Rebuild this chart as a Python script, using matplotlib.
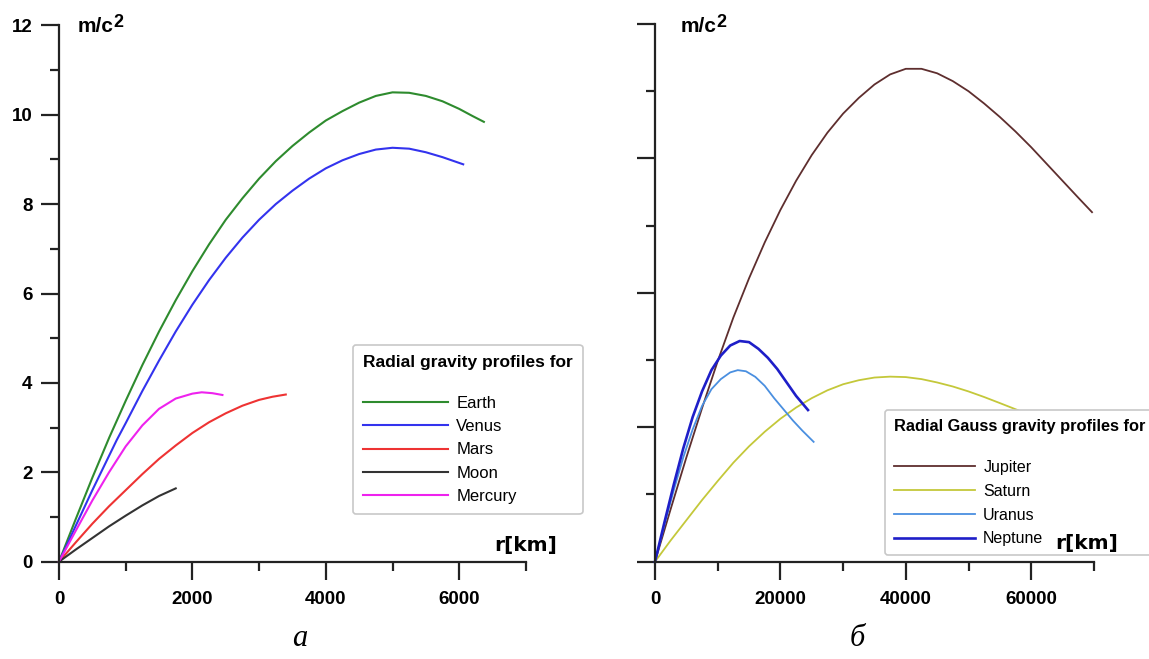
import matplotlib
matplotlib.use('Agg')
import matplotlib.pyplot as plt
from matplotlib.ticker import MultipleLocator

plt.rcParams['font.family'] = ['Liberation Sans', 'DejaVu Sans']

W, H = 1149, 659

# left panel: r [km], g [m/s^2]
earth_r = [0, 250, 500, 754, 1000, 1250, 1500, 1750, 2000, 2250, 2500, 2750, 3000, 3250, 3500,
           3750, 4000, 4250, 4500, 4750, 5000, 5250, 5500, 5750, 6000, 6200, 6370]
earth_g = [0, 0.95, 1.88, 2.78, 3.6, 4.4, 5.15, 5.85, 6.5, 7.1, 7.65, 8.13, 8.57, 8.96, 9.3,
           9.6, 9.87, 10.08, 10.27, 10.42, 10.5, 10.49, 10.42, 10.3, 10.13, 9.97, 9.84]
venus_r = [0, 250, 500, 865, 1000, 1250, 1500, 1750, 2000, 2250, 2500, 2750, 3000, 3250, 3500,
           3750, 4000, 4250, 4500, 4750, 5000, 5250, 5500, 5750, 6060]
venus_g = [0, 0.8, 1.6, 2.72, 3.1, 3.82, 4.5, 5.15, 5.75, 6.3, 6.8, 7.25, 7.65, 8.0, 8.3,
           8.57, 8.8, 8.98, 9.12, 9.22, 9.26, 9.24, 9.16, 9.05, 8.89]
mars_r = [0, 250, 500, 750, 1000, 1250, 1500, 1750, 2000, 2250, 2500, 2750, 3000, 3200, 3400]
mars_g = [0, 0.43, 0.85, 1.24, 1.6, 1.96, 2.3, 2.6, 2.88, 3.12, 3.32, 3.49, 3.62, 3.69, 3.74]
moon_r = [0, 250, 500, 750, 1000, 1250, 1500, 1750]
moon_g = [0, 0.27, 0.53, 0.79, 1.03, 1.26, 1.47, 1.64]
mercury_r = [0, 250, 500, 750, 1000, 1250, 1500, 1750, 2000, 2140, 2300, 2450]
mercury_g = [0, 0.69, 1.37, 2.0, 2.58, 3.05, 3.42, 3.65, 3.76, 3.79, 3.77, 3.73]

# right panel
jupiter_r = [0, 2500, 5000, 7500, 10000, 12500, 15000, 17500, 20000, 22500, 25000, 27500, 30000,
             32500, 35000, 37500, 40000, 42500, 45000, 47500, 50000, 52500, 55000, 57500, 60000,
             62500, 65000, 67500, 69700]
jupiter_g = [0, 2.35, 4.65, 6.85, 8.95, 10.9, 12.65, 14.25, 15.7, 17.0, 18.15, 19.15, 20.0,
             20.7, 21.3, 21.75, 22.0, 22.0, 21.8, 21.45, 21.0, 20.45, 19.85, 19.2, 18.5,
             17.75, 17.0, 16.25, 15.6]
saturn_r = [0, 2500, 5000, 7500, 10000, 12500, 15000, 17500, 20000, 22500, 25000, 27500, 30000,
            32500, 35000, 37500, 40000, 42500, 45000, 47500, 50000, 52500, 55000, 58000]
saturn_g = [0, 0.95, 1.85, 2.75, 3.6, 4.42, 5.15, 5.8, 6.38, 6.88, 7.3, 7.65, 7.92,
            8.1, 8.22, 8.26, 8.24, 8.15, 8.0, 7.82, 7.6, 7.35, 7.08, 6.75]
uranus_r = [0, 1500, 3000, 4500, 6000, 7500, 9000, 10500, 12000, 13200, 14500, 16000, 17500,
            19000, 20500, 22000, 23500, 25300]
uranus_g = [0, 1.65, 3.2, 4.65, 5.9, 6.95, 7.7, 8.15, 8.45, 8.55, 8.5, 8.25, 7.85,
            7.3, 6.8, 6.3, 5.85, 5.35]
neptune_r = [0, 1500, 3000, 4500, 6000, 7500, 9000, 10500, 12000, 13500, 15000, 16500, 18000,
             19500, 21000, 22500, 24400]
neptune_g = [0, 1.75, 3.45, 5.05, 6.45, 7.6, 8.55, 9.2, 9.65, 9.85, 9.8, 9.5, 9.1,
             8.6, 8.0, 7.4, 6.77]


def fx(x):
    return x / W


def fy(y):
    return 1 - y / H


fig = plt.figure(figsize=(W / 100, H / 100), dpi=100)
ax1 = fig.add_axes([fx(59), fy(561.7), 466.9 / W, 536.4 / H])
ax2 = fig.add_axes([fx(655), fy(561.7), 438.9 / W, 537.7 / H])

for ax in (ax1, ax2):
    for s in ('top', 'right'):
        ax.spines[s].set_visible(False)
    for s in ('left', 'bottom'):
        ax.spines[s].set_linewidth(1.6)
        ax.spines[s].set_color('#222222')
    ax.tick_params(which='major', direction='out', length=13, width=1.6, color='#222222',
                   labelsize=13.5, pad=6)
    ax.tick_params(which='minor', direction='out', length=6.5, width=1.6, color='#222222')
    ax.tick_params(axis='x', which='major', pad=8)
    ax.set_facecolor('none')

lw = 1.5
ax1.plot(earth_r, earth_g, color='#2e8b2e', lw=lw, label='Earth', clip_on=False)
ax1.plot(venus_r, venus_g, color='#3333ee', lw=lw, label='Venus', clip_on=False)
ax1.plot(mars_r, mars_g, color='#ee3333', lw=lw, label='Mars', clip_on=False)
ax1.plot(moon_r, moon_g, color='#333333', lw=lw, label='Moon', clip_on=False)
ax1.plot(mercury_r, mercury_g, color='#ee22ee', lw=lw, label='Mercury', clip_on=False)
ax1.set_xlim(0, 7000)
ax1.set_ylim(0, 12)
ax1.xaxis.set_major_locator(MultipleLocator(2000))
ax1.xaxis.set_minor_locator(MultipleLocator(1000))
ax1.yaxis.set_major_locator(MultipleLocator(2))
ax1.yaxis.set_minor_locator(MultipleLocator(1))

ax2.plot(jupiter_r, jupiter_g, color='#5e2e2e', lw=1.3, label='Jupiter', clip_on=False)
ax2.plot(saturn_r, saturn_g, color='#c4c83a', lw=1.3, label='Saturn', clip_on=False)
ax2.plot(uranus_r, uranus_g, color='#4a8fe0', lw=1.3, label='Uranus', clip_on=False)
ax2.plot(neptune_r, neptune_g, color='#1e1ec8', lw=1.9, label='Neptune', clip_on=False)
ax2.set_xlim(0, 70000)
ax2.set_ylim(0, 24)
ax2.xaxis.set_major_locator(MultipleLocator(20000))
ax2.xaxis.set_minor_locator(MultipleLocator(10000))
ax2.yaxis.set_major_locator(MultipleLocator(6))
ax2.yaxis.set_minor_locator(MultipleLocator(3))
ax2.tick_params(axis='y', labelleft=False)

for ax in (ax1, ax2):
    for lab in ax.get_xticklabels() + ax.get_yticklabels():
        lab.set_fontweight('bold')

leg1 = ax1.legend(title='Radial gravity profiles for\n', loc='upper left',
                  bbox_to_anchor=(fx(353), fy(345)), bbox_transform=fig.transFigure,
                  borderaxespad=0, fontsize=12, title_fontproperties={'weight': 'bold', 'size': 12.5},
                  handlelength=5.1, handletextpad=0.5, labelspacing=0.5, borderpad=0.6,
                  frameon=True, fancybox=True, edgecolor='#c8c8c8', framealpha=1)
leg1._legend_box.align = 'left'
leg1.get_frame().set_linewidth(1.2)

leg2 = ax2.legend(title='Radial Gauss gravity profiles for\n', loc='upper left',
                  bbox_to_anchor=(fx(885), fy(410)), bbox_transform=fig.transFigure,
                  borderaxespad=0, fontsize=11.5, title_fontproperties={'weight': 'bold', 'size': 11.8},
                  handlelength=5.1, handletextpad=0.5, labelspacing=0.55, borderpad=0.55,
                  frameon=True, fancybox=True, edgecolor='#c8c8c8', framealpha=1)
leg2._legend_box.align = 'left'
leg2.get_frame().set_linewidth(1.2)

# axis units
for x0 in (78, 681):
    fig.text(fx(x0), fy(32), 'm/c', fontsize=15, fontweight='bold', va='baseline')
    fig.text(fx(x0 + 35), fy(27), '2', fontsize=13, fontweight='bold', va='baseline')

fig.text(fx(557), fy(545), 'r[km]', fontsize=14.5, fontweight='bold', ha='right', va='center',
         family='DejaVu Sans', zorder=10)
fig.text(fx(1118), fy(543), 'r[km]', fontsize=14.5, fontweight='bold', ha='right', va='center',
         family='DejaVu Sans', zorder=10)

fig.text(fx(300), fy(638), 'а', fontsize=22, style='italic', family='Liberation Serif',
         ha='center', va='center')
fig.text(fx(857), fy(638), 'б', fontsize=22, style='italic', family='Liberation Serif',
         ha='center', va='center')

fig.savefig('out.png', dpi=100)
